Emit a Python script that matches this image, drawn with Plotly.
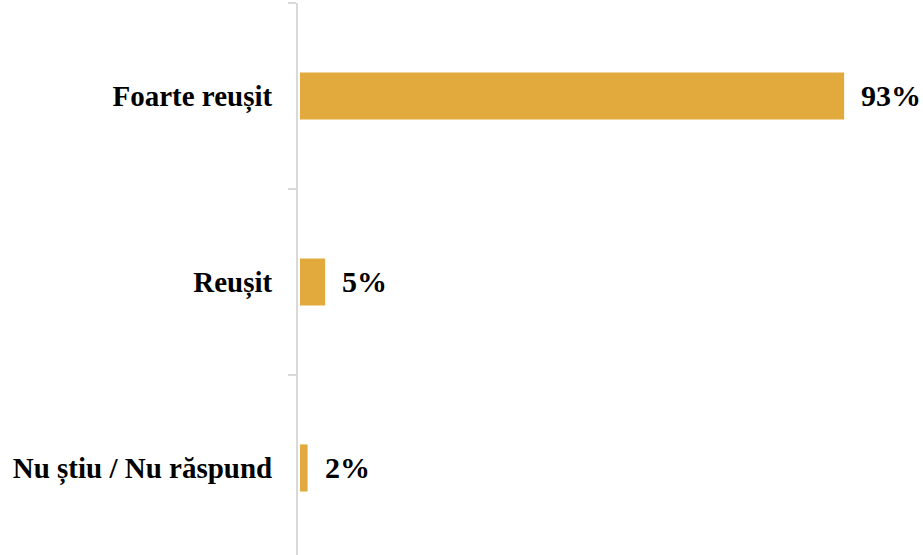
import plotly.graph_objects as go

# Survey answers (top to bottom)
categories = ["Foarte reușit", "Reușit", "Nu știu / Nu răspund"]
values = [93, 4.3, 1.3]
labels = ["93%", "5%", "2%"]

BAR_COLOR = "#E2AA3D"
AXIS_GREY = "#d9d9d9"
FONT = "Liberation Serif, Times New Roman, serif"

fig = go.Figure()
fig.add_trace(go.Bar(
    x=values,
    y=categories,
    orientation="h",
    marker=dict(color=BAR_COLOR, line=dict(width=0)),
    hoverinfo="skip",
))

# value labels to the right of each bar
for cat, val, lab in zip(categories, values, labels):
    fig.add_annotation(
        x=val, y=cat, text=lab, showarrow=False,
        xanchor="left", yanchor="middle", xshift=15,
        font=dict(family=FONT, size=30, color="#000000", weight="bold"),
    )

fig.update_layout(
    width=923,
    height=555,
    margin=dict(l=298, r=20, t=3, b=0),
    plot_bgcolor="#ffffff",
    paper_bgcolor="#ffffff",
    bargap=0.747,
    showlegend=False,
    font=dict(family=FONT, size=29, color="#000000"),
)

fig.update_xaxes(
    range=[-0.34, 103.06],
    visible=False,
    showgrid=False,
    zeroline=False,
    automargin=False,
)

fig.update_yaxes(
    type="category",
    categoryorder="array",
    categoryarray=categories,
    range=[2.468, -0.5],
    automargin=False,
    showgrid=False,
    zeroline=False,
    showline=True,
    linecolor=AXIS_GREY,
    linewidth=2,
    ticks="outside",
    tickson="boundaries",
    ticklen=8,
    tickcolor=AXIS_GREY,
    tickwidth=2,
    ticklabelstandoff=18,
    tickfont=dict(family=FONT, size=29, color="#000000", weight="bold"),
)

# drop the browser's default body margin so the figure fills the window
fig.write_html(
    "out.html",
    config={"displayModeBar": False},
    post_script="document.body.style.margin='0';document.body.style.overflow='hidden';",
)
